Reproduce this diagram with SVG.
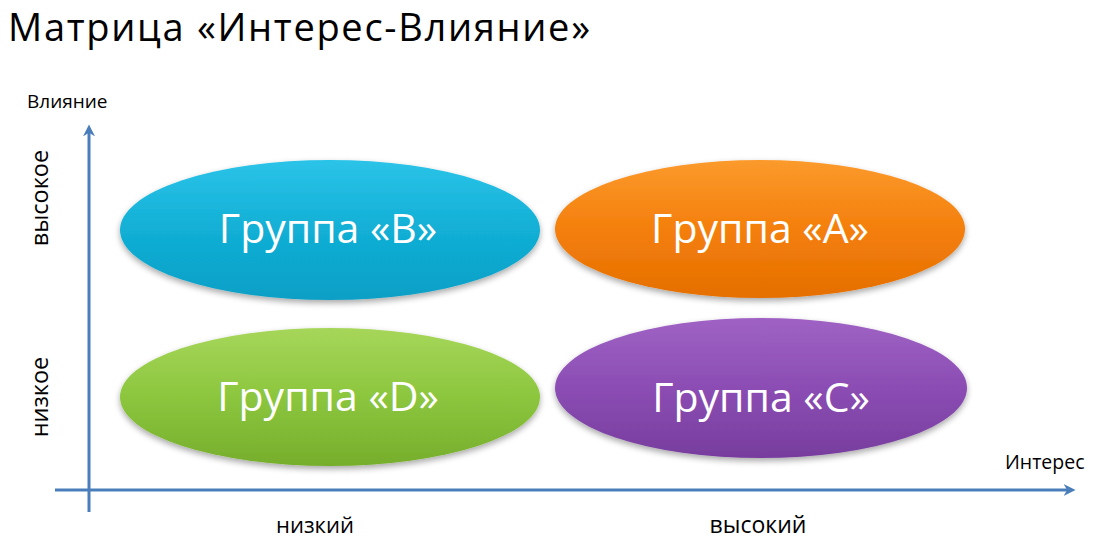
<svg xmlns="http://www.w3.org/2000/svg" width="1106" height="549" viewBox="0 0 1106 549">
<defs>
<style>
.t{font-family:"Open Sans","Liberation Sans",sans-serif;fill:#000}
.n{font-family:"Open Sans","Liberation Sans",sans-serif;fill:#fff;font-size:41px;text-anchor:middle}
.ax{stroke:#4a7ebb;stroke-width:3;fill:none}
</style>
<linearGradient id="gB" x1="0" y1="0" x2="0" y2="1"><stop offset="0" stop-color="#2cc3e8"/><stop offset="0.5" stop-color="#12afd5"/><stop offset="1" stop-color="#0a9fc6"/></linearGradient>
<linearGradient id="gA" x1="0" y1="0" x2="0" y2="1"><stop offset="0" stop-color="#fb9a2c"/><stop offset="0.5" stop-color="#f47f0c"/><stop offset="1" stop-color="#e56f00"/></linearGradient>
<linearGradient id="gD" x1="0" y1="0" x2="0" y2="1"><stop offset="0" stop-color="#a6d65a"/><stop offset="0.5" stop-color="#8cc63e"/><stop offset="1" stop-color="#76ae2c"/></linearGradient>
<linearGradient id="gC" x1="0" y1="0" x2="0" y2="1"><stop offset="0" stop-color="#9f62c4"/><stop offset="0.5" stop-color="#8b4db3"/><stop offset="1" stop-color="#773d9e"/></linearGradient>
<filter id="sh" x="-10%" y="-20%" width="120%" height="150%"><feGaussianBlur in="SourceAlpha" stdDeviation="3"/><feOffset dy="3"/><feComponentTransfer><feFuncA type="linear" slope="0.35"/></feComponentTransfer><feMerge><feMergeNode/><feMergeNode in="SourceGraphic"/></feMerge></filter>
<marker id="ar" viewBox="0 0 10 10" refX="7" refY="5" markerWidth="4" markerHeight="4" orient="auto"><path d="M0,0 L10,5 L0,10 L3,5 z" fill="#4a7ebb"/></marker>
</defs>
<rect width="1106" height="549" fill="#fff"/>
<text class="t" x="8" y="41" font-size="38" textLength="582">Матрица «Интерес-Влияние»</text>
<g id="connectors">
<line class="ax" x1="89" y1="512" x2="89" y2="128" marker-end="url(#ar)"/>
<line class="ax" x1="55" y1="490" x2="1072" y2="490" marker-end="url(#ar)"/>
</g>
<text class="t" x="27" y="108" font-size="19">Влияние</text>
<text class="t" x="1005" y="469" font-size="19.5">Интерес</text>
<text class="t" font-size="23.5" text-anchor="middle" transform="translate(48,198) rotate(-90)">высокое</text>
<text class="t" font-size="23.5" text-anchor="middle" transform="translate(48,397) rotate(-90)">низкое</text>
<text class="t" x="315" y="533" font-size="22" text-anchor="middle">низкий</text>
<text class="t" x="758" y="533" font-size="23" text-anchor="middle">высокий</text>
<g id="groupB"><ellipse cx="330" cy="230" rx="210" ry="70" fill="url(#gB)" filter="url(#sh)"/><text class="n" x="328" y="243">Группа «B»</text></g>
<g id="groupA"><ellipse cx="760" cy="229" rx="205" ry="69" fill="url(#gA)" filter="url(#sh)"/><text class="n" x="760" y="243">Группа «А»</text></g>
<g id="groupD"><ellipse cx="330" cy="397" rx="210" ry="69" fill="url(#gD)" filter="url(#sh)"/><text class="n" x="328" y="411">Группа «D»</text></g>
<g id="groupC"><ellipse cx="761" cy="388" rx="206" ry="70" fill="url(#gC)" filter="url(#sh)"/><text class="n" x="761" y="412">Группа «С»</text></g>
</svg>
